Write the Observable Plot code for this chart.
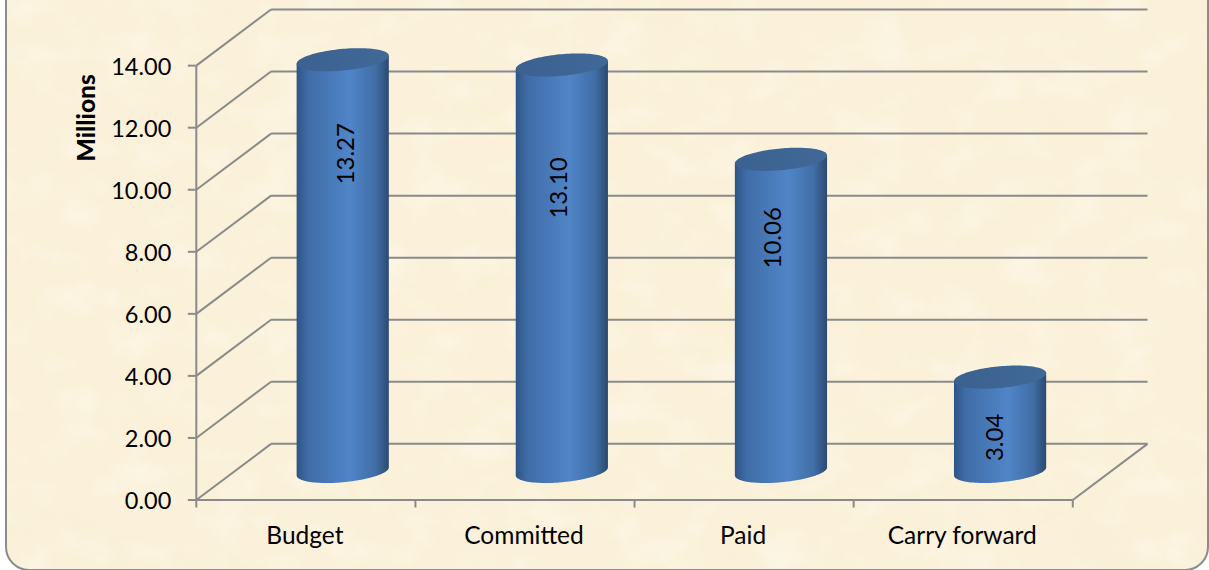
<!DOCTYPE html>
<html>
<head>
<meta charset="utf-8">
<script src="https://cdn.jsdelivr.net/npm/d3@7"></script>
<script src="https://cdn.jsdelivr.net/npm/@observablehq/plot@0.6"></script>
<style>
html,body{margin:0;padding:0;background:#fff;overflow:hidden}
#page{position:relative;width:1209px;height:570px;overflow:hidden}
#paper{position:absolute;left:5px;top:-40px;width:1200px;height:607px;border:2px solid #8c8c8c;border-radius:24px;
background-color:#fbf1da;
background-image:url("data:image/svg+xml,%3Csvg xmlns='http://www.w3.org/2000/svg' width='1209' height='620'%3E%3Cfilter id='n' x='0' y='0' width='100%25' height='100%25'%3E%3CfeTurbulence type='fractalNoise' baseFrequency='0.016 0.022' numOctaves='4' seed='7'/%3E%3CfeColorMatrix values='0 0 0 0 0.91 0 0 0 0 0.87 0 0 0 0 0.62 2.6 0 0 0 -1.25'/%3E%3C/filter%3E%3Cfilter id='m' x='0' y='0' width='100%25' height='100%25'%3E%3CfeTurbulence type='fractalNoise' baseFrequency='0.02 0.028' numOctaves='4' seed='23'/%3E%3CfeColorMatrix values='0 0 0 0 1 0 0 0 0 0.98 0 0 0 0 0.92 2.6 0 0 0 -1.25'/%3E%3C/filter%3E%3Crect width='1209' height='620' filter='url(%23n)' opacity='0.3'/%3E%3Crect width='1209' height='620' filter='url(%23m)' opacity='0.35'/%3E%3C/svg%3E");}
#chart{position:absolute;left:0;top:0}
</style>
</head>
<body>
<div id="page"><div id="paper"></div><div id="chart"></div></div>
<script>
const categories = ["Budget", "Committed", "Paid", "Carry forward"];
const values = [13.27, 13.10, 10.06, 3.04];
const valueLabels = ["13.27", "13.10", "10.06", "3.04"];
const yTicks = [0, 2, 4, 6, 8, 10, 12, 14];

// Oblique 3-D projection, in data units of the two scales
const depthX = 0.341, depthY = 1.81;
const barRx = 0.2104, tiltY = 0.13, sweepY = 0.35;
const labelShiftX = [0.012, -0.015, -0.035, -0.022];
const labelAt = [11.16, 10.06, 8.45, 2.02];

const cx = i => i + 0.5 + depthX / 2;
const angles = d3.range(0, 61).map(k => k / 60 * Math.PI);
const floorMid = depthY / 2;

const body = values.flatMap((v, i) => angles.map(t => ({
  i,
  x: cx(i) + barRx * Math.cos(t),
  y1: floorMid + tiltY * Math.cos(t) - sweepY * Math.sin(t),
  y2: v + floorMid + tiltY * Math.cos(t)
})));
const rim = values.flatMap((v, i) => angles.map(t => ({
  i,
  x: cx(i) + barRx * Math.cos(t),
  y1: v + floorMid + tiltY * Math.cos(t) - sweepY * Math.sin(t),
  y2: v + floorMid + tiltY * Math.cos(t) + sweepY * Math.sin(t)
})));

const grey = "#8a8a8a";
const lw = 2;
const font = "Lato, Carlito, sans-serif";

const plot = Plot.plot({
  width: 1209,
  height: 570,
  marginLeft: 195.8,
  marginRight: 62,
  marginTop: 9,
  marginBottom: 70.5,
  style: {fontFamily: font, fontSize: "23px", background: "transparent", color: "#000"},
  x: {domain: [0, 4 + depthX]},
  y: {domain: [0, 14 + depthY]},
  marks: [
    Plot.link(yTicks, {x1: 0, y1: d => d, x2: depthX, y2: d => d + depthY, stroke: grey, strokeWidth: lw}),
    Plot.link(yTicks, {x1: depthX, y1: d => d + depthY, x2: 4 + depthX, y2: d => d + depthY, stroke: grey, strokeWidth: lw}),
    Plot.link([0], {x1: 0, y1: 0, x2: 4, y2: 0, stroke: grey, strokeWidth: lw}),
    Plot.link([0], {x1: 4, y1: 0, x2: 4 + depthX, y2: depthY, stroke: grey, strokeWidth: lw}),
    Plot.link([0], {x1: 0, y1: 0, x2: 0, y2: 14, stroke: grey, strokeWidth: lw}),
    Plot.axisY({ticks: yTicks, tickSize: 8, tickFormat: () => "", stroke: grey, strokeWidth: lw, label: null}),
    Plot.axisY({ticks: yTicks, tickSize: 0, tickPadding: 25, dy: 1.5, tickFormat: d => d.toFixed(2), label: null, fontSize: 23.5}),
    Plot.axisX({ticks: [0, 1, 2, 3, 4], tickSize: 8, tickFormat: () => "", stroke: grey, strokeWidth: lw, label: null}),
    Plot.axisX({ticks: [0.5, 1.5, 2.5, 3.5], tickSize: 0, tickPadding: 27, dx: -1, tickFormat: d => categories[d - 0.5], label: null, fontSize: 24.5}),
    Plot.text(["Millions"], {x: 0, y: 12.32, dx: -109, text: d => d, rotate: -90, fontWeight: 900, fontSize: 24.5, fill: "#000"}),
    Plot.area(body, {x1: "x", y1: "y1", y2: "y2", z: "i", fill: "url(#cyl)", curve: "linear"}),
    Plot.area(rim, {x1: "x", y1: "y1", y2: "y2", z: "i", fill: "url(#cap)", curve: "linear"}),
    Plot.text(values, {
      x: (d, i) => cx(i) + labelShiftX[i],
      y: (d, i) => labelAt[i],
      text: (d, i) => valueLabels[i],
      rotate: -90, fontSize: 24, fill: "#000"
    })
  ]
});

const NS = "http://www.w3.org/2000/svg";
const defs = document.createElementNS(NS, "defs");
defs.innerHTML = `
<linearGradient id="cyl" x1="0" x2="1" y1="0" y2="0">
  <stop offset="0" stop-color="#2d5485"/><stop offset="0.12" stop-color="#3f6ca6"/>
  <stop offset="0.58" stop-color="#5085c8"/><stop offset="0.86" stop-color="#406da5"/>
  <stop offset="1" stop-color="#2b4a70"/>
</linearGradient>
<linearGradient id="cap" x1="0" x2="1" y1="0" y2="0">
  <stop offset="0" stop-color="#3a6190"/><stop offset="1" stop-color="#416998"/>
</linearGradient>`;
plot.insertBefore(defs, plot.firstChild);
document.getElementById("chart").appendChild(plot);
</script>
</body>
</html>
